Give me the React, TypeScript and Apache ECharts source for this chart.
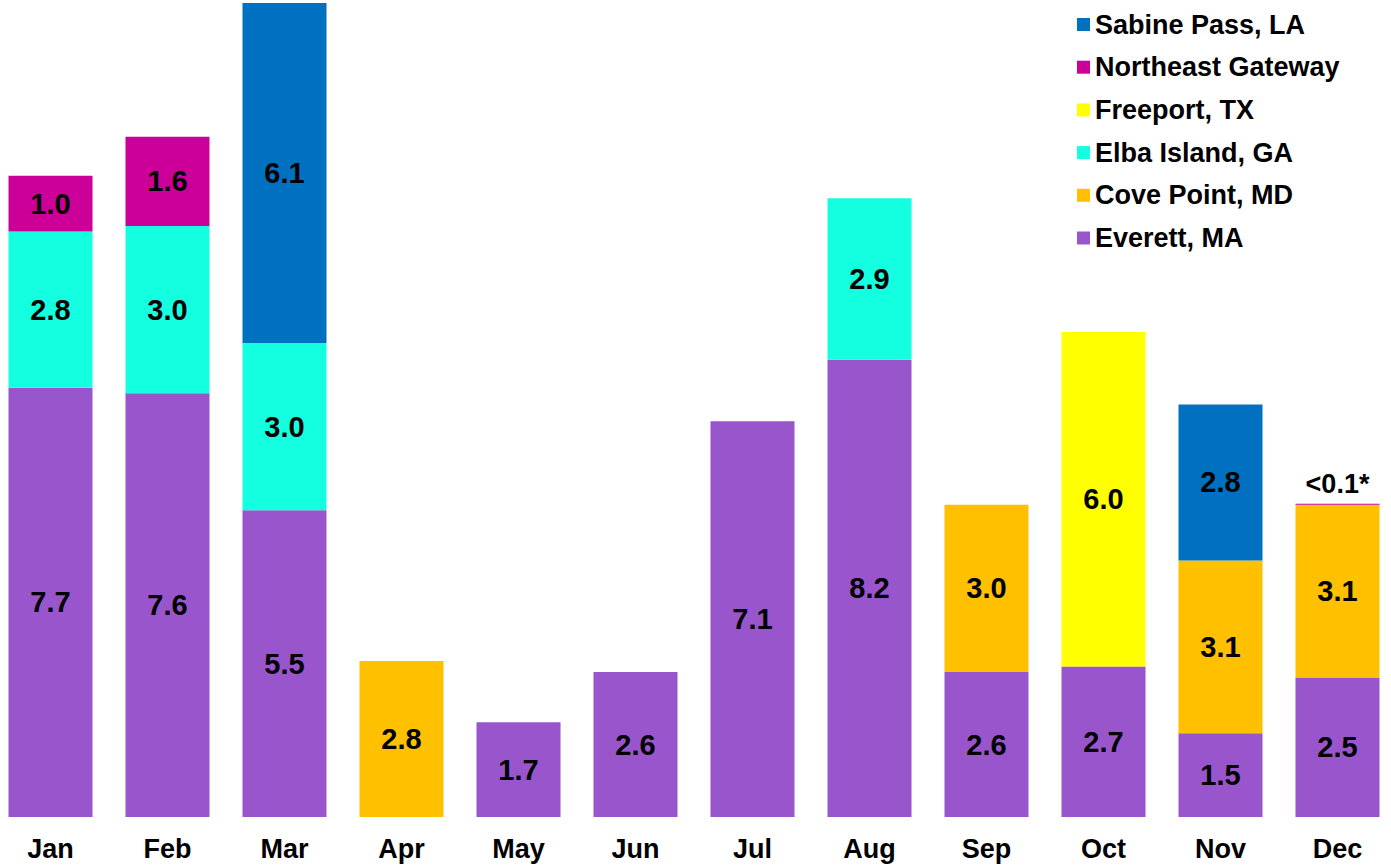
import React, { useEffect, useRef } from "react";
import * as echarts from "echarts";

const months = ["Jan", "Feb", "Mar", "Apr", "May", "Jun", "Jul", "Aug", "Sep", "Oct", "Nov", "Dec"];

const everett = [7.7, 7.6, 5.5, null, 1.7, 2.6, 7.1, 8.2, 2.6, 2.7, 1.5, 2.5];
const covePoint = [null, null, null, 2.8, null, null, null, null, 3.0, null, 3.1, 3.1];
const elbaIsland = [2.8, 3.0, 3.0, null, null, null, null, 2.9, null, null, null, null];
const freeport = [null, null, null, null, null, null, null, null, null, 6.0, null, null];
const northeastGateway = [1.0, 1.6, null, null, null, null, null, null, null, null, null, 0.02];
const sabinePass = [null, null, 6.1, null, null, null, null, null, null, null, 2.8, null];

// label overrides for tiny values
const smallNotes: Record<string, string> = { "Northeast Gateway|Dec": "<0.1*" };

const seriesDefs = [
  { name: "Everett, MA", data: everett, color: "#9955CC" },
  { name: "Cove Point, MD", data: covePoint, color: "#FFC000" },
  { name: "Elba Island, GA", data: elbaIsland, color: "#13FFE0" },
  { name: "Freeport, TX", data: freeport, color: "#FFFF00" },
  { name: "Northeast Gateway", data: northeastGateway, color: "#CC0099" },
  { name: "Sabine Pass, LA", data: sabinePass, color: "#0070C0" },
];

const legendOrder = [
  "Sabine Pass, LA",
  "Northeast Gateway",
  "Freeport, TX",
  "Elba Island, GA",
  "Cove Point, MD",
  "Everett, MA",
];

const FONT = "Arial, 'Liberation Sans', sans-serif";

export default function App() {
  const ref = useRef<HTMLDivElement>(null);
  useEffect(() => {
    if (!ref.current) return;
    const chart = echarts.init(ref.current, undefined, { renderer: "svg" });
    const series = seriesDefs.map((s) => ({
      name: s.name,
      type: "bar",
      stack: "total",
      barWidth: 84,
      itemStyle: { color: s.color },
      label: {
        show: true,
        position: "inside",
        color: "#000",
        fontWeight: "bold",
        fontSize: 29,
        fontFamily: FONT,
        formatter: (p: any) => (p.value == null ? "" : Number(p.value).toFixed(1)),
      },
      data: s.data.map((v, i) => {
        const note = smallNotes[s.name + "|" + months[i]];
        if (note && v != null) {
          return {
            value: v,
            label: {
              show: true,
              position: "top",
              distance: 6,
              formatter: note,
              color: "#000",
              fontWeight: "bold",
              fontSize: 27,
              fontFamily: FONT,
            },
          };
        }
        return v;
      }),
    }));
    chart.setOption({
      animation: false,
      textStyle: { fontFamily: FONT },
      grid: { left: 0, right: 0, top: 3, bottom: 50, containLabel: false },
      legend: {
        data: legendOrder,
        orient: "vertical",
        left: 1080,
        top: 6,
        itemWidth: 13,
        itemHeight: 13,
        itemGap: 15.7,
        icon: "rect",
        selectedMode: false,
        textStyle: { fontSize: 27, fontWeight: "bold", color: "#000", fontFamily: FONT, lineHeight: 27 },
      },
      xAxis: {
        type: "category",
        data: months,
        axisLine: { show: false },
        axisTick: { show: false },
        axisLabel: { fontSize: 27, fontWeight: "bold", color: "#000", margin: 18, fontFamily: FONT },
      },
      yAxis: {
        type: "value",
        min: 0,
        max: 14.6,
        show: false,
        splitLine: { show: false },
      },
      series,
    });
    return () => chart.dispose();
  }, []);
  return (
    <div
      ref={ref}
      style={{ position: "absolute", left: -8, top: 0, width: 1404, height: 867, background: "#fff" }}
    />
  );
}
